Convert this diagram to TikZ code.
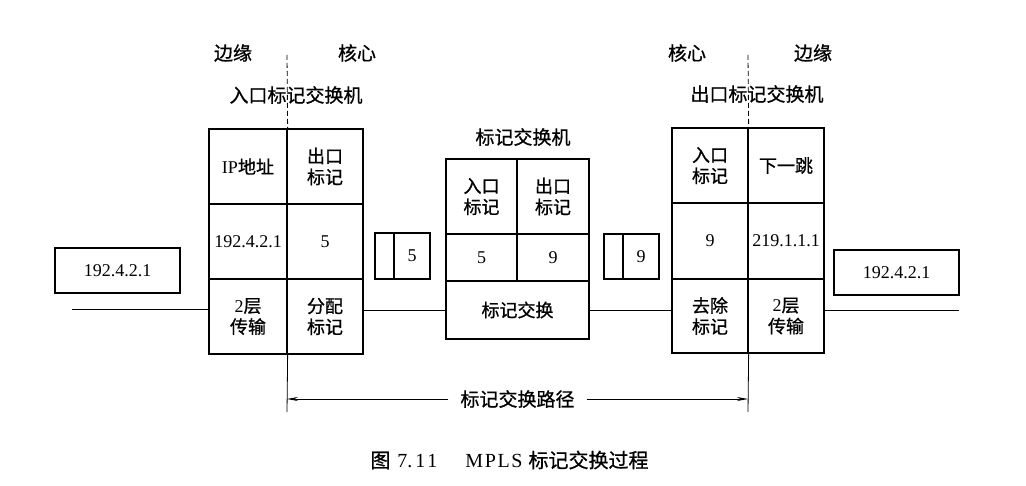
\documentclass[tikz,border=0pt]{standalone}
\usepackage{fontspec}
\setmainfont{Liberation Serif}
\newfontfamily\cjk[FakeBold=0.8]{Noto Sans CJK SC}
\usetikzlibrary{arrows.meta}
\tikzset{
  cell/.style={draw, line width=1.3pt, inner sep=0pt, align=center,
    font=\fontsize{18}{21}\selectfont\cjk},
  num/.style={font=\fontsize{18}{21}\selectfont\rmfamily},
  head/.style={inner sep=0pt, font=\fontsize{19}{21}\selectfont\cjk},
  thin/.style={line width=0.8pt},
  arr/.style={line width=0.8pt, -{Stealth[length=11pt,width=4pt]}},
}
\begin{document}
\begin{tikzpicture}[x=1pt,y=-1pt]
\useasboundingbox (0,0) rectangle (1026,486);
% left (ingress) table
\node[cell, minimum width=78, minimum height=75] (L11) at (248,166.5) {{\rmfamily IP}地址};
\node[cell, minimum width=76, minimum height=75] (L12) at (325,166.5) {出口\\标记};
\node[cell, num, minimum width=78, minimum height=75] (L21) at (248,241.5) {192.4.2.1};
\node[cell, num, minimum width=76, minimum height=75] (L22) at (325,241.5) {5};
\node[cell, minimum width=78, minimum height=75] (L31) at (248,316.5) {{\rmfamily 2}层\\传输};
\node[cell, minimum width=76, minimum height=75] (L32) at (325,316.5) {分配\\标记};
% middle table
\node[cell, minimum width=71, minimum height=75] (M11) at (481.5,196.5) {入口\\标记};
\node[cell, minimum width=72, minimum height=75] (M12) at (553,196.5) {出口\\标记};
\node[cell, num, minimum width=71, minimum height=47] (M21) at (481.5,257.5) {5};
\node[cell, num, minimum width=72, minimum height=47] (M22) at (553,257.5) {9};
\node[cell, minimum width=143, minimum height=58] (M3) at (517.5,310) {标记交换};
% right (egress) table
\node[cell, minimum width=76, minimum height=75] (R11) at (710,165.5) {入口\\标记};
\node[cell, minimum width=76, minimum height=75] (R12) at (786,165.5) {下一跳};
\node[cell, num, minimum width=76, minimum height=76] (R21) at (710,241) {9};
\node[cell, num, minimum width=76, minimum height=76] (R22) at (786,241) {219.1.1.1};
\node[cell, minimum width=76, minimum height=74] (R31) at (710,316) {去除\\标记};
\node[cell, minimum width=76, minimum height=74] (R32) at (786,316) {{\rmfamily 2}层\\传输};
% packets
\node[cell, minimum width=19, minimum height=46] (P1a) at (384.5,256) {};
\node[cell, num, minimum width=36, minimum height=46] (P1b) at (412,256) {5};
\node[cell, minimum width=19, minimum height=45] (P2a) at (613.5,256.5) {};
\node[cell, num, minimum width=36, minimum height=45] (P2b) at (641,256.5) {9};
% address boxes
\node[cell, num, minimum width=125, minimum height=45] (A1) at (117.5,270.5) {192.4.2.1};
\node[cell, num, minimum width=125, minimum height=45] (A2) at (896.5,272.5) {192.4.2.1};
% headings
\node[head] (e1) at (233,53) {边缘};
\node[head] (c1) at (357,53) {核心};
\node[head] (c2) at (687,53) {核心};
\node[head] (e2) at (813,53) {边缘};
\node[head] (t1) at (296,95) {入口标记交换机};
\node[head] (t2) at (757,94) {出口标记交换机};
\node[head] (t3) at (523,137) {标记交换机};
% links
\coordinate (ls) at (72,309);
\coordinate (re) at (959,310);
\draw[thin] (ls) -- (ls -| L31.west);
\draw[thin] (M3.west -| L32.east) -- (M3.west);
\draw[thin] (M3.east) -- (M3.east -| R31.west);
\draw[thin] (R32.east |- re) -- (re);
% boundaries
\coordinate (d1) at (287,55);
\coordinate (d2) at (748,55);
\coordinate (b1) at (287,412);
\coordinate (b2) at (748,412);
\draw[thin, dash pattern=on 5pt off 3pt] (d1) -- (L11.north east);
\draw[thin, dash pattern=on 5pt off 3pt] (d2) -- (R11.north east);
\draw[thin] (L31.south east) -- (b1);
\draw[thin] (R31.south east) -- (b2);
% path label and arrows
\node[head, inner xsep=12pt] (lp) at (517.5,399) {标记交换路径};
\draw[arr] (lp.west) -- (lp.west -| b1);
\draw[arr] (lp.east) -- (lp.east -| b2);
% caption
\node[inner sep=0pt, font=\fontsize{20}{22}\selectfont] (cap) at (509.5,460) {{\cjk 图}\hspace{7pt}7.\hspace{3pt}1\hspace{2pt}1\hspace{28pt}{\addfontfeature{LetterSpace=8}MPLS}\hspace{6pt}{\cjk 标记交换过程}};
\end{tikzpicture}
\end{document}
